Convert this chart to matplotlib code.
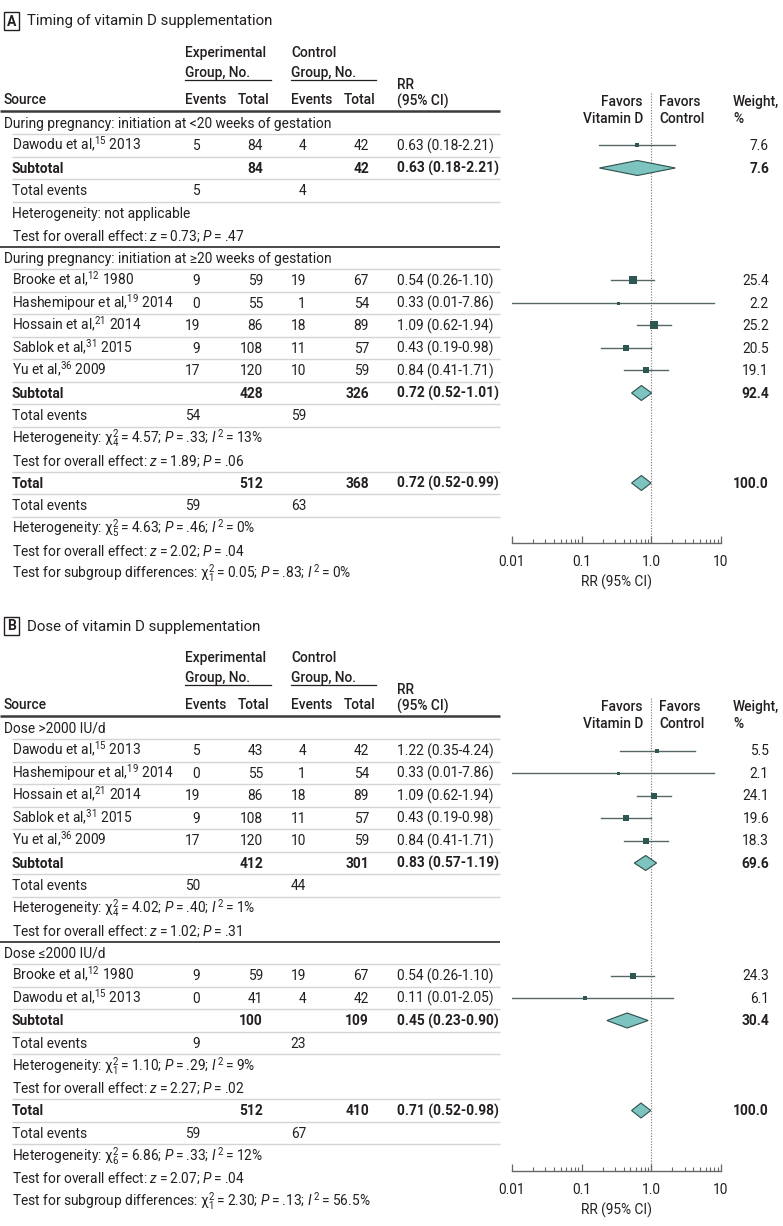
import matplotlib
matplotlib.use('Agg')
import matplotlib.pyplot as plt
from matplotlib.patches import Rectangle, Polygon
from matplotlib.ticker import FixedLocator, FixedFormatter, LogLocator, NullFormatter
import numpy as np

FONT = 'Roboto'
plt.rcParams['font.family'] = [FONT, 'DejaVu Sans']
plt.rcParams['mathtext.fontset'] = 'custom'
plt.rcParams['mathtext.rm'] = FONT
plt.rcParams['mathtext.it'] = FONT + ':italic'
plt.rcParams['mathtext.bf'] = FONT + ':bold'
plt.rcParams['mathtext.fallback'] = 'stixsans'

# ---------------- DATA: Panel A ----------------
a_title = "Timing of vitamin D supplementation"
a_groups = ["During pregnancy: initiation at <20 weeks of gestation",
            "During pregnancy: initiation at \u226520 weeks of gestation"]
a_g1_names = ["Dawodu et al"]
a_g1_refs = [15]
a_g1_years = [2013]
a_g1_exp_ev = [5]
a_g1_exp_n = [84]
a_g1_ctl_ev = [4]
a_g1_ctl_n = [42]
a_g1_rr = [0.63]
a_g1_lo = [0.18]
a_g1_hi = [2.21]
a_g1_w = [7.6]

a_g2_names = ["Brooke et al", "Hashemipour et al", "Hossain et al", "Sablok et al", "Yu et al"]
a_g2_refs = [12, 19, 21, 31, 36]
a_g2_years = [1980, 2014, 2014, 2015, 2009]
a_g2_exp_ev = [9, 0, 19, 9, 17]
a_g2_exp_n = [59, 55, 86, 108, 120]
a_g2_ctl_ev = [19, 1, 18, 11, 10]
a_g2_ctl_n = [67, 54, 89, 57, 59]
a_g2_rr = [0.54, 0.33, 1.09, 0.43, 0.84]
a_g2_lo = [0.26, 0.01, 0.62, 0.19, 0.41]
a_g2_hi = [1.10, 7.86, 1.94, 0.98, 1.71]
a_g2_w = [25.4, 2.2, 25.2, 20.5, 19.1]

# subtotals: [group1, group2]
a_sub_exp_n = [84, 428]
a_sub_ctl_n = [42, 326]
a_sub_rr = [0.63, 0.72]
a_sub_lo = [0.18, 0.52]
a_sub_hi = [2.21, 1.01]
a_sub_w = [7.6, 92.4]
a_sub_exp_ev = [5, 54]
a_sub_ctl_ev = [4, 59]
a_het_chi2 = [None, 4.57]
a_het_df = [None, 4]
a_het_p = [None, ".33"]
a_het_i2 = [None, "13"]
a_z = [0.73, 1.89]
a_zp = [".47", ".06"]

a_tot = dict(exp_n=512, ctl_n=368, rr=0.72, lo=0.52, hi=0.99, w=100.0,
             exp_ev=59, ctl_ev=63, chi2=4.63, df=5, p=".46", i2="0",
             z=2.02, zp=".04", sg_chi2=0.05, sg_df=1, sg_p=".83", sg_i2="0")

# ---------------- DATA: Panel B ----------------
b_title = "Dose of vitamin D supplementation"
b_groups = ["Dose >2000 IU/d", "Dose \u22642000 IU/d"]
b_g1_names = ["Dawodu et al", "Hashemipour et al", "Hossain et al", "Sablok et al", "Yu et al"]
b_g1_refs = [15, 19, 21, 31, 36]
b_g1_years = [2013, 2014, 2014, 2015, 2009]
b_g1_exp_ev = [5, 0, 19, 9, 17]
b_g1_exp_n = [43, 55, 86, 108, 120]
b_g1_ctl_ev = [4, 1, 18, 11, 10]
b_g1_ctl_n = [42, 54, 89, 57, 59]
b_g1_rr = [1.22, 0.33, 1.09, 0.43, 0.84]
b_g1_lo = [0.35, 0.01, 0.62, 0.19, 0.41]
b_g1_hi = [4.24, 7.86, 1.94, 0.98, 1.71]
b_g1_w = [5.5, 2.1, 24.1, 19.6, 18.3]

b_g2_names = ["Brooke et al", "Dawodu et al"]
b_g2_refs = [12, 15]
b_g2_years = [1980, 2013]
b_g2_exp_ev = [9, 0]
b_g2_exp_n = [59, 41]
b_g2_ctl_ev = [19, 4]
b_g2_ctl_n = [67, 42]
b_g2_rr = [0.54, 0.11]
b_g2_lo = [0.26, 0.01]
b_g2_hi = [1.10, 2.05]
b_g2_w = [24.3, 6.1]

b_sub_exp_n = [412, 100]
b_sub_ctl_n = [301, 109]
b_sub_rr = [0.83, 0.45]
b_sub_lo = [0.57, 0.23]
b_sub_hi = [1.19, 0.90]
b_sub_w = [69.6, 30.4]
b_sub_exp_ev = [50, 9]
b_sub_ctl_ev = [44, 23]
b_het_chi2 = [4.02, 1.10]
b_het_df = [4, 1]
b_het_p = [".40", ".29"]
b_het_i2 = ["1", "9"]
b_z = [1.02, 2.27]
b_zp = [".31", ".02"]

b_tot = dict(exp_n=512, ctl_n=410, rr=0.71, lo=0.52, hi=0.98, w=100.0,
             exp_ev=59, ctl_ev=67, chi2=6.86, df=6, p=".33", i2="12",
             z=2.07, zp=".04", sg_chi2=2.30, sg_df=1, sg_p=".13", sg_i2="56.5")

x_ticks = [0.01, 0.1, 1.0, 10]
x_ticklabels = ["0.01", "0.1", "1.0", "10"]

# ---------------- STYLE ----------------
TXT = '#231f20'
LIGHT = '#d4d4d4'
DARK = '#3a3a3a'
SQ = '#2e5652'
CI = '#566765'
DIA_FILL = '#7dc3bf'
DIA_EDGE = '#2e4f4c'
FS = 9.9
STEP = 22.5
THIN = '\u2009'

fig = plt.figure(figsize=(7.83, 12.26), dpi=100)
ax = fig.add_axes([0, 0, 1, 1])
ax.set_xlim(0, 783)
ax.set_ylim(1226, 0)
ax.axis('off')

X_EV1, X_N1, X_EV2, X_N2 = 200, 263, 306, 369
X_RR = 397
X_W = 769
LINE_END = 500


def T(x, y, s, ha='left', bold=False, size=FS, weight=None):
    fw = weight if weight else ('bold' if bold else 'normal')
    ax.text(x, y + 4.8, s, ha=ha, va='baseline', fontsize=size, color=TXT, fontweight=fw)


def hline(y, dark=False):
    if dark:
        ax.plot([0, LINE_END], [y, y], color=DARK, lw=1.3, solid_capstyle='butt')
    else:
        ax.plot([12, LINE_END], [y, y], color=LIGHT, lw=1.0, solid_capstyle='butt')


def rr_str(rr, lo, hi):
    return f"{rr:.2f} ({lo:.2f}-{hi:.2f})"


def het_str(prefix, chi2, df, p, i2):
    return (prefix + r"$\mathrm{\chi}^{2}_{%d}$" % df + THIN + "=" + THIN + f"{chi2:.2f}; "
            + r"$P$" + THIN + "=" + THIN + p + "; " + r"$I^{\,2}$" + THIN + "=" + THIN + i2 + "%")


def z_str(z, p):
    return ("Test for overall effect: " + r"$z$" + THIN + "=" + THIN + f"{z:.2f}; "
            + r"$P$" + THIN + "=" + THIN + p)


def panel(off, letter, title, groups, studies, subs, tot, axis_y):
    # title
    ax.add_patch(Rectangle((4, 12 + off), 15, 18, fill=False, ec=TXT, lw=1.0))
    ax.text(11.5, 21.5 + off, letter, ha='center', va='center', fontsize=10,
            fontweight='bold', color=TXT)
    ax.text(27, 21.5 + off, title, ha='left', va='center', fontsize=10.8, color=TXT)
    # column headers
    T(185, 52 + off, "Experimental", weight='medium')
    T(185, 72 + off, "Group, No.", weight='medium')
    T(291, 52 + off, "Control", weight='medium')
    T(291, 72 + off, "Group, No.", weight='medium')
    ax.plot([185, 271], [79.5 + off] * 2, color=TXT, lw=0.9)
    ax.plot([291, 376], [79.5 + off] * 2, color=TXT, lw=0.9)
    T(4, 99 + off, "Source", weight='medium')
    T(185, 99 + off, "Events", weight='medium')
    T(269, 99 + off, "Total", ha='right', weight='medium')
    T(291, 99 + off, "Events", weight='medium')
    T(375, 99 + off, "Total", ha='right', weight='medium')
    T(X_RR, 84 + off, "RR", weight='medium')
    T(X_RR, 101 + off, "(95% CI)", weight='medium')
    T(643, 101 + off, "Favors", ha='right', weight='medium')
    T(643, 118 + off, "Vitamin D", ha='right', weight='medium')
    T(659, 101 + off, "Favors", weight='medium')
    T(659, 118 + off, "Control", weight='medium')
    T(733, 101 + off, "Weight,", weight='medium')
    T(733, 118 + off, "%", weight='medium')
    ax.plot([0, LINE_END], [111 + off] * 2, color=DARK, lw=1.8, solid_capstyle='butt')

    top = 92 + off
    fa = fig.add_axes([512 / 783, 1 - axis_y / 1226, 209 / 783, (axis_y - top) / 1226])
    fa.set_xscale('log')
    fa.set_xlim(0.01, 10)
    fa.set_ylim(axis_y, top)
    fa.patch.set_alpha(0)
    for s in ['top', 'right', 'left']:
        fa.spines[s].set_visible(False)
    fa.spines['bottom'].set_color('#666666')
    fa.spines['bottom'].set_linewidth(1.0)
    fa.set_yticks([])
    fa.xaxis.set_major_locator(FixedLocator(x_ticks))
    fa.xaxis.set_major_formatter(FixedFormatter(x_ticklabels))
    fa.xaxis.set_minor_locator(LogLocator(base=10, subs=np.arange(2, 10)))
    fa.xaxis.set_minor_formatter(NullFormatter())
    fa.tick_params(axis='x', which='major', direction='in', length=5, width=0.9,
                   color='#666666', labelsize=FS, labelcolor=TXT, pad=9)
    fa.tick_params(axis='x', which='minor', direction='in', length=3, width=0.8, color='#666666')
    fa.set_xlabel("RR (95% CI)", fontsize=FS, color=TXT, labelpad=4)
    fa.plot([1, 1], [top + 1, axis_y], ls=(0, (1, 1.2)), color='#8a8a8a', lw=0.9, zorder=1)

    def diamond(y, rr, lo, hi):
        fa.add_patch(Polygon([(lo, y), (rr, y - 7.5), (hi, y), (rr, y + 7.5)], closed=True,
                             fc=DIA_FILL, ec=DIA_EDGE, lw=0.8, zorder=3))

    y = 123 + off
    for gi, gname in enumerate(groups):
        T(4, y, gname)
        hline(y + 11.25)
        y += STEP
        st = studies[gi]
        for k in range(len(st['names'])):
            T(12, y, f"{st['names'][k]},$^{{{st['refs'][k]}}}$ {st['years'][k]}")
            T(X_EV1, y, str(st['exp_ev'][k]), ha='right')
            T(X_N1, y, str(st['exp_n'][k]), ha='right')
            T(X_EV2, y, str(st['ctl_ev'][k]), ha='right')
            T(X_N2, y, str(st['ctl_n'][k]), ha='right')
            T(X_RR, y, rr_str(st['rr'][k], st['lo'][k], st['hi'][k]))
            T(X_W, y, f"{st['w'][k]:.1f}", ha='right')
            fa.plot([st['lo'][k], st['hi'][k]], [y, y], color=CI, lw=1.0, zorder=2)
            side = max(3.0, 1.4 * np.sqrt(st['w'][k]))
            fa.plot([st['rr'][k]], [y], marker='s', ms=side * 0.72, color=SQ, mec=SQ,
                    mew=0, zorder=4)
            hline(y + 11.25)
            y += STEP
        # subtotal
        T(12, y, "Subtotal", bold=True)
        T(X_N1, y, str(subs['exp_n'][gi]), ha='right', bold=True)
        T(X_N2, y, str(subs['ctl_n'][gi]), ha='right', bold=True)
        T(X_RR, y, rr_str(subs['rr'][gi], subs['lo'][gi], subs['hi'][gi]), bold=True)
        T(X_W, y, f"{subs['w'][gi]:.1f}", ha='right', bold=True)
        diamond(y, subs['rr'][gi], subs['lo'][gi], subs['hi'][gi])
        hline(y + 11.25)
        y += STEP
        T(12, y, "Total events")
        T(X_EV1, y, str(subs['exp_ev'][gi]), ha='right')
        T(X_EV2, y, str(subs['ctl_ev'][gi]), ha='right')
        hline(y + 11.25)
        y += STEP
        if subs['chi2'][gi] is None:
            T(12, y, "Heterogeneity: not applicable")
        else:
            T(12, y, het_str("Heterogeneity: ", subs['chi2'][gi], subs['df'][gi],
                             subs['p'][gi], subs['i2'][gi]))
        y += STEP
        T(12, y, z_str(subs['z'][gi], subs['zp'][gi]))
        hline(y + 11.25, dark=(gi < len(groups) - 1))
        y += STEP
    # overall
    T(12, y, "Total", bold=True)
    T(X_N1, y, str(tot['exp_n']), ha='right', bold=True)
    T(X_N2, y, str(tot['ctl_n']), ha='right', bold=True)
    T(X_RR, y, rr_str(tot['rr'], tot['lo'], tot['hi']), bold=True)
    T(X_W, y, f"{tot['w']:.1f}", ha='right', bold=True)
    diamond(y, tot['rr'], tot['lo'], tot['hi'])
    hline(y + 11.25)
    y += STEP
    T(12, y, "Total events")
    T(X_EV1, y, str(tot['exp_ev']), ha='right')
    T(X_EV2, y, str(tot['ctl_ev']), ha='right')
    hline(y + 11.25)
    y += STEP
    T(12, y, het_str("Heterogeneity: ", tot['chi2'], tot['df'], tot['p'], tot['i2']))
    y += STEP
    T(12, y, z_str(tot['z'], tot['zp']))
    y += STEP
    T(12, y, het_str("Test for subgroup differences: ", tot['sg_chi2'], tot['sg_df'],
                     tot['sg_p'], tot['sg_i2']))


def pack(names, refs, years, e1, n1, e2, n2, rr, lo, hi, w):
    return dict(names=names, refs=refs, years=years, exp_ev=e1, exp_n=n1, ctl_ev=e2,
                ctl_n=n2, rr=rr, lo=lo, hi=hi, w=w)


a_studies = [pack(a_g1_names, a_g1_refs, a_g1_years, a_g1_exp_ev, a_g1_exp_n, a_g1_ctl_ev,
                  a_g1_ctl_n, a_g1_rr, a_g1_lo, a_g1_hi, a_g1_w),
             pack(a_g2_names, a_g2_refs, a_g2_years, a_g2_exp_ev, a_g2_exp_n, a_g2_ctl_ev,
                  a_g2_ctl_n, a_g2_rr, a_g2_lo, a_g2_hi, a_g2_w)]
a_subs = dict(exp_n=a_sub_exp_n, ctl_n=a_sub_ctl_n, rr=a_sub_rr, lo=a_sub_lo, hi=a_sub_hi,
              w=a_sub_w, exp_ev=a_sub_exp_ev, ctl_ev=a_sub_ctl_ev, chi2=a_het_chi2,
              df=a_het_df, p=a_het_p, i2=a_het_i2, z=a_z, zp=a_zp)
b_studies = [pack(b_g1_names, b_g1_refs, b_g1_years, b_g1_exp_ev, b_g1_exp_n, b_g1_ctl_ev,
                  b_g1_ctl_n, b_g1_rr, b_g1_lo, b_g1_hi, b_g1_w),
             pack(b_g2_names, b_g2_refs, b_g2_years, b_g2_exp_ev, b_g2_exp_n, b_g2_ctl_ev,
                  b_g2_ctl_n, b_g2_rr, b_g2_lo, b_g2_hi, b_g2_w)]
b_subs = dict(exp_n=b_sub_exp_n, ctl_n=b_sub_ctl_n, rr=b_sub_rr, lo=b_sub_lo, hi=b_sub_hi,
              w=b_sub_w, exp_ev=b_sub_exp_ev, ctl_ev=b_sub_ctl_ev, chi2=b_het_chi2,
              df=b_het_df, p=b_het_p, i2=b_het_i2, z=b_z, zp=b_zp)

panel(0, "A", a_title, a_groups, a_studies, a_subs, a_tot, 543)
panel(605, "B", b_title, b_groups, b_studies, b_subs, b_tot, 1171)

fig.savefig("out.png", dpi=100, facecolor='white')
